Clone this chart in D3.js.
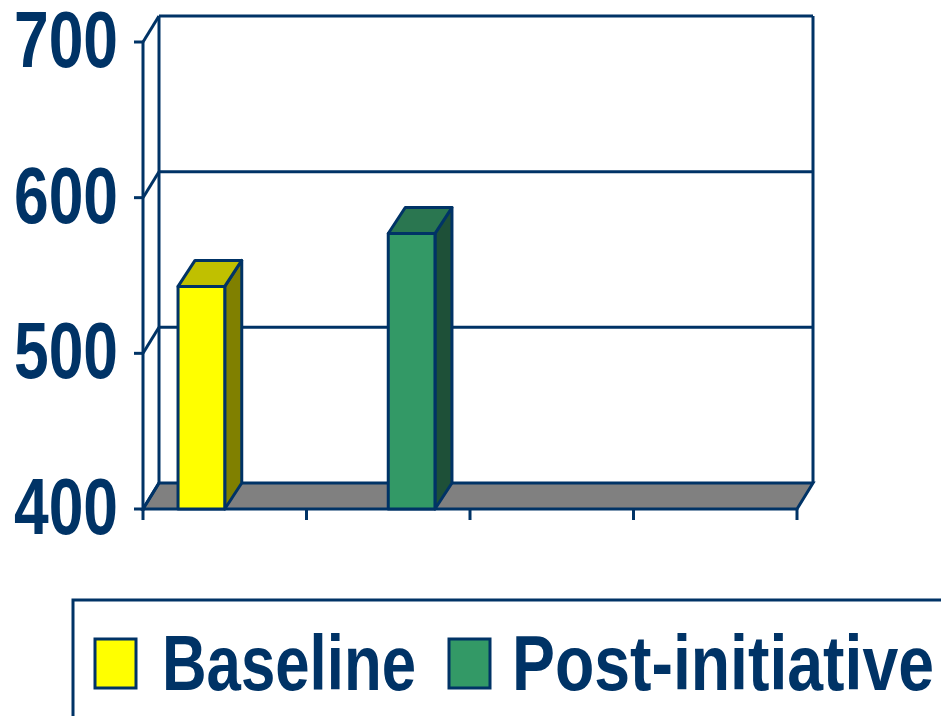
<!DOCTYPE html>
<html>
<head>
<meta charset="utf-8">
<script src="https://cdn.jsdelivr.net/npm/d3@7"></script>
<style>
  html, body { margin: 0; padding: 0; background: #fff; }
  svg { display: block; }
  text { font-family: "Liberation Sans", Arial, sans-serif; font-weight: bold; fill: #003366; }
</style>
</head>
<body>
<svg id="chart" width="941" height="716"></svg>
<script>
// Category slots along the floor (unlabelled) and the two series
const categories = ["c1", "c2", "c3", "c4"];
const seriesNames = ["Baseline", "Post-initiative"];
const baselineValues = [543, null, null, null];
const postValues = [null, 577, null, null];
const yTicks = [400, 500, 600, 700];

const faceColors = {
  "Baseline":        { front: "#FFFF00", top: "#C0C000", side: "#808000" },
  "Post-initiative": { front: "#339966", top: "#2A7650", side: "#1E5038" }
};
const navy = "#003366";

const svg = d3.select("#chart");

// Front plane scales
const y = d3.scaleLinear().domain([400, 700]).range([509, 42]);
const x = d3.scaleBand().domain(categories).range([143, 797]).paddingInner(0).paddingOuter(0);
const xs = d3.scaleBand().domain(seriesNames).range([0, x.bandwidth()]).paddingInner(0).paddingOuter(0.75);

// Depth offsets for the wall and the bars
const wall = { dx: 16, dy: -26 };
const bar = { dx: 17, dy: -26 };

const x0 = x.range()[0], x1 = x.range()[1];
const yFloor = y(400), yTop = y(700);

const g = svg.append("g");

// Floor
g.append("path")
  .attr("d", `M${x0},${yFloor}L${x1},${yFloor}L${x1 + wall.dx},${yFloor + wall.dy}L${x0 + wall.dx},${yFloor + wall.dy}Z`)
  .attr("fill", "#808080").attr("stroke", navy).attr("stroke-width", 3).attr("stroke-linejoin", "miter");

// Back wall gridlines and frame
yTicks.forEach(v => {
  const yy = y(v);
  if (v > 400) {
    g.append("line")
      .attr("x1", x0 + wall.dx).attr("x2", x1 + wall.dx)
      .attr("y1", yy + wall.dy).attr("y2", yy + wall.dy)
      .attr("stroke", navy).attr("stroke-width", 3);
  }
  // diagonal on the side wall
  g.append("line")
    .attr("x1", x0).attr("y1", yy).attr("x2", x0 + wall.dx).attr("y2", yy + wall.dy)
    .attr("stroke", navy).attr("stroke-width", 3);
  // tick
  g.append("line")
    .attr("x1", x0 - 9).attr("x2", x0).attr("y1", yy).attr("y2", yy)
    .attr("stroke", navy).attr("stroke-width", 3);
});
// back wall verticals
g.append("line").attr("x1", x0 + wall.dx).attr("x2", x0 + wall.dx)
  .attr("y1", yTop + wall.dy).attr("y2", yFloor + wall.dy)
  .attr("stroke", navy).attr("stroke-width", 3);
g.append("line").attr("x1", x1 + wall.dx).attr("x2", x1 + wall.dx)
  .attr("y1", yTop + wall.dy).attr("y2", yFloor + wall.dy)
  .attr("stroke", navy).attr("stroke-width", 3);

// Front value axis
g.append("line").attr("x1", x0).attr("x2", x0).attr("y1", yTop).attr("y2", yFloor + 2)
  .attr("stroke", navy).attr("stroke-width", 3);

// Category ticks along the front floor edge
const boundaries = categories.map(c => x(c)).concat([x1]);
boundaries.forEach(bx => {
  g.append("line").attr("x1", bx).attr("x2", bx).attr("y1", yFloor).attr("y2", yFloor + 11)
    .attr("stroke", navy).attr("stroke-width", 3);
});

// Bars
const rows = [];
categories.forEach((c, i) => {
  [["Baseline", baselineValues[i]], ["Post-initiative", postValues[i]]].forEach(([s, v]) => {
    if (v != null) rows.push({ cat: c, series: s, value: v });
  });
});

rows.forEach(d => {
  const bx = x(d.cat) + xs(d.series);
  const bw = xs.bandwidth();
  const top = y(d.value);
  const col = faceColors[d.series];
  const bg = g.append("g").attr("stroke", navy).attr("stroke-width", 3).attr("stroke-linejoin", "round");
  // side face
  bg.append("path")
    .attr("d", `M${bx + bw},${top}L${bx + bw + bar.dx},${top + bar.dy}L${bx + bw + bar.dx},${yFloor + bar.dy}L${bx + bw},${yFloor}Z`)
    .attr("fill", col.side);
  // top face
  bg.append("path")
    .attr("d", `M${bx},${top}L${bx + bar.dx},${top + bar.dy}L${bx + bw + bar.dx},${top + bar.dy}L${bx + bw},${top}Z`)
    .attr("fill", col.top);
  // front face
  bg.append("rect")
    .attr("x", bx).attr("y", top).attr("width", bw).attr("height", yFloor - top)
    .attr("fill", col.front);
});

// Value labels
yTicks.forEach(v => {
  svg.append("text")
    .attr("x", 14).attr("y", y(v) + 25)
    .attr("font-size", 80)
    .attr("textLength", 104).attr("lengthAdjust", "spacingAndGlyphs")
    .text(v);
});

// Legend
const legend = svg.append("g");
legend.append("rect")
  .attr("x", 73).attr("y", 600).attr("width", 900).attr("height", 200)
  .attr("fill", "#fff").attr("stroke", navy).attr("stroke-width", 3);

const legendItems = [
  { name: "Baseline", sx: 95, tx: 162, tw: 254 },
  { name: "Post-initiative", sx: 449, tx: 512, tw: 422 }
];
legendItems.forEach(it => {
  legend.append("rect")
    .attr("x", it.sx).attr("y", 639).attr("width", 41).attr("height", 49)
    .attr("fill", faceColors[it.name].front).attr("stroke", navy).attr("stroke-width", 3);
  legend.append("text")
    .attr("x", it.tx).attr("y", 690)
    .attr("font-size", 77)
    .attr("textLength", it.tw).attr("lengthAdjust", "spacingAndGlyphs")
    .text(it.name);
});
</script>
</body>
</html>
